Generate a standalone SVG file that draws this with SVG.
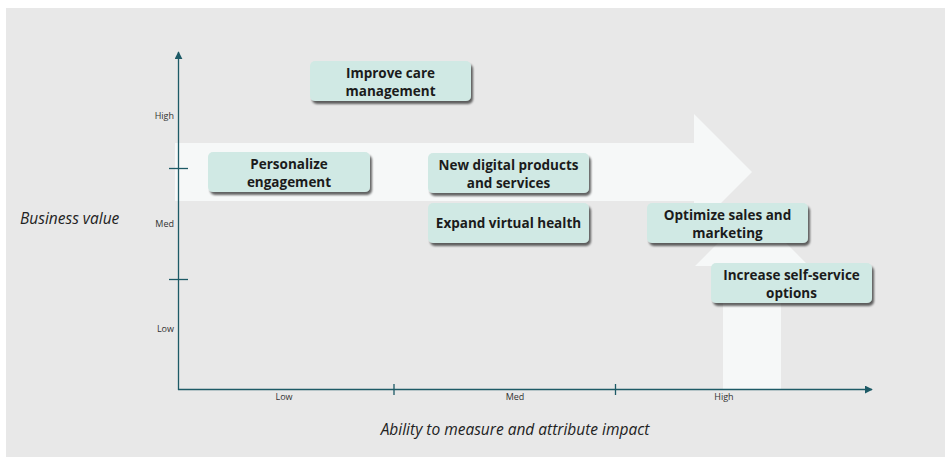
<svg xmlns="http://www.w3.org/2000/svg" width="945" height="457" viewBox="0 0 945 457">
  <style>
    .box { fill: #d0e9e4; filter: url(#shadow); }
    .lbl { font-family: "Open Sans", "Liberation Sans", sans-serif; font-weight: bold; font-size: 13.5px; fill: #1b1b1b; text-anchor: middle; }
    .tick { font-family: "Open Sans", "Liberation Sans", sans-serif; font-size: 9px; fill: #333; }
    .title { font-family: "Open Sans", "Liberation Sans", sans-serif; font-style: italic; font-size: 15.5px; fill: #222; }
    .axis { stroke: #1d5a66; stroke-width: 1.3; fill: none; }
    .band { fill: #f6f8f8; }
  </style>
  <defs>
    <filter id="shadow" x="-10%" y="-20%" width="125%" height="150%">
      <feGaussianBlur in="SourceAlpha" stdDeviation="1.3"/>
      <feOffset dx="2" dy="2.5" result="b"/>
      <feComponentTransfer><feFuncA type="linear" slope="0.6"/></feComponentTransfer>
      <feMerge><feMergeNode/><feMergeNode in="SourceGraphic"/></feMerge>
    </filter>
    <marker id="tip" viewBox="0 0 10 10" refX="9" refY="5" markerWidth="8" markerHeight="8" markerUnits="userSpaceOnUse" orient="auto">
      <path d="M0,0 L10,5 L0,10 Z" fill="#1d5a66"/>
    </marker>
  </defs>

  <!-- panel -->
  <rect x="6" y="8" width="939" height="449" fill="#e8e8e8"/>

  <!-- wide direction arrows in the background -->
  <path class="band" d="M175,143 H694 V114 L752,172 L694,230 V201 H175 Z"/>
  <path class="band" d="M723,390 V266 H695 L752,209 L809,266 H781 V390 Z"/>

  <!-- axes -->
  <g id="connectors">
    <line class="axis" x1="178.5" y1="390" x2="178.5" y2="52" marker-end="url(#tip)"/>
    <line class="axis" x1="178" y1="389.5" x2="872" y2="389.5" marker-end="url(#tip)"/>
    <line class="axis" x1="169" y1="168.5" x2="188" y2="168.5"/>
    <line class="axis" x1="169" y1="279.5" x2="188" y2="279.5"/>
    <line class="axis" x1="394" y1="384" x2="394" y2="395"/>
    <line class="axis" x1="615.5" y1="384" x2="615.5" y2="395"/>
  </g>

  <!-- axis labels -->
  <g id="axis-labels">
    <text class="tick" x="174" y="119" text-anchor="end">High</text>
    <text class="tick" x="174" y="227" text-anchor="end">Med</text>
    <text class="tick" x="174" y="332" text-anchor="end">Low</text>
    <text class="tick" x="284" y="400" text-anchor="middle">Low</text>
    <text class="tick" x="515" y="400" text-anchor="middle">Med</text>
    <text class="tick" x="724" y="400" text-anchor="middle">High</text>
    <text class="title" x="20" y="224">Business value</text>
    <text class="title" x="515" y="435" text-anchor="middle">Ability to measure and attribute impact</text>
  </g>

  <!-- initiatives -->
  <g id="improve-care">
    <rect class="box" x="310" y="61" width="161" height="40" rx="5"/>
    <text class="lbl" x="390.5" y="77.5">Improve care</text>
    <text class="lbl" x="390.5" y="96">management</text>
  </g>
  <g id="personalize">
    <rect class="box" x="208" y="152" width="162" height="40" rx="5"/>
    <text class="lbl" x="289" y="168.5">Personalize</text>
    <text class="lbl" x="289" y="187">engagement</text>
  </g>
  <g id="digital-products">
    <rect class="box" x="428" y="153" width="161" height="40" rx="5"/>
    <text class="lbl" x="508.5" y="169.5">New digital products</text>
    <text class="lbl" x="508.5" y="188">and services</text>
  </g>
  <g id="virtual-health">
    <rect class="box" x="428" y="203" width="161" height="40" rx="5"/>
    <text class="lbl" x="508.5" y="228">Expand virtual health</text>
  </g>
  <g id="sales-marketing">
    <rect class="box" x="647" y="203" width="161" height="40" rx="5"/>
    <text class="lbl" x="727.5" y="219.5">Optimize sales and</text>
    <text class="lbl" x="727.5" y="238">marketing</text>
  </g>
  <g id="self-service">
    <rect class="box" x="711" y="263" width="161" height="40" rx="5"/>
    <text class="lbl" x="791.5" y="279.5">Increase self-service</text>
    <text class="lbl" x="791.5" y="298">options</text>
  </g>
</svg>
